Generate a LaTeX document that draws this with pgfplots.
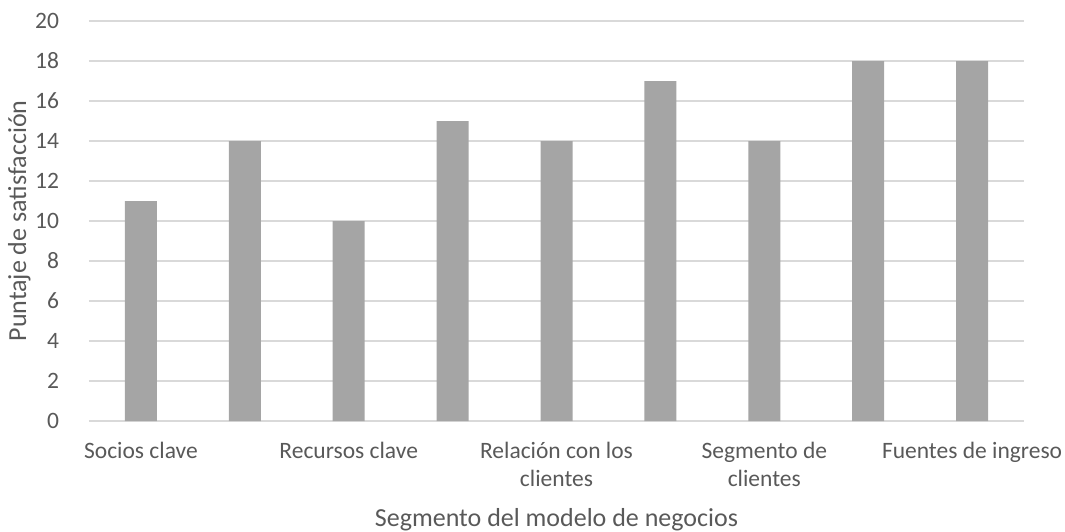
\documentclass[border=0pt]{standalone}
\usepackage{pgfplots}
\pgfplotsset{compat=1.18}
\usepackage{fontspec}
\setmainfont{Carlito}
\definecolor{bargray}{HTML}{A5A5A5}
\definecolor{txtgray}{HTML}{595959}
\definecolor{gridgray}{HTML}{D9D9D9}
\begin{document}
\fontsize{23.5pt}{28pt}\selectfont
\begin{tikzpicture}
\path[use as bounding box] (-89pt,-110pt) rectangle (976pt,421pt);
\begin{axis}[
  at={(0pt,0pt)}, anchor=south west,
  scale only axis, width=935pt, height=400pt,
  xmin=-0.5, xmax=8.5, ymin=0, ymax=20,
  ytick={0,2,...,20},
  xtick={0,2,4,6,8},
  xticklabels={Socios clave,Recursos clave,{Relación con los\\clientes},{Segmento de\\clientes},Fuentes de ingreso},
  xticklabel style={align=center, text=txtgray, font=\fontsize{23.5pt}{28pt}\selectfont, yshift=-13pt},
  yticklabel style={text=txtgray, font=\fontsize{23.5pt}{28pt}\selectfont, xshift=-22pt},
  /pgf/number format/assume math mode=true,
  major tick length=0pt,
  ymajorgrids, grid style={gridgray, line width=1.2pt},
  axis y line*=left, axis x line*=bottom,
  y axis line style={draw=none},
  x axis line style={-, gridgray, line width=1.2pt},
  xlabel={Segmento del modelo de negocios},
  ylabel={Puntaje de satisfacción},
  label style={text=txtgray, font=\fontsize{26pt}{30pt}\selectfont},
  xlabel style={at={(axis description cs:0.5,0)}, anchor=base, yshift=-105pt},
  ylabel style={at={(axis description cs:0,0.5)}, anchor=north, rotate=0, yshift=89pt},
  ybar, bar width=32pt,
]
\addplot[fill=bargray, draw=none] coordinates {(0,11) (1,14) (2,10) (3,15) (4,14) (5,17) (6,14) (7,18) (8,18)};
\end{axis}
\end{tikzpicture}
\end{document}
